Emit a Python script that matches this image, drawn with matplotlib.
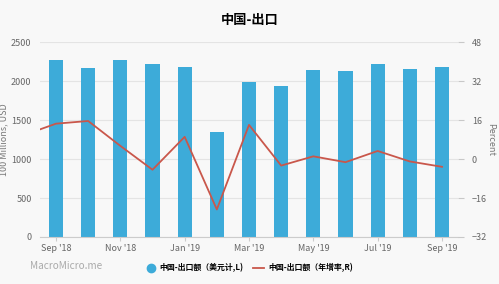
import matplotlib.pyplot as plt

plt.rcParams['font.family'] = ['Noto Sans CJK SC', 'DejaVu Sans']

months = ["Sep '18", "Oct '18", "Nov '18", "Dec '18", "Jan '19", "Feb '19", "Mar '19",
          "Apr '19", "May '19", "Jun '19", "Jul '19", "Aug '19", "Sep '19"]
exports = [2267, 2171, 2274, 2212, 2177, 1352, 1987, 1934, 2138, 2128, 2215, 2148, 2182]
# yoy starts one month earlier (Aug '18), drawn just outside the left edge
yoy = [9.8, 14.5, 15.6, 5.4, -4.4, 9.1, -20.7, 14.0, -2.7, 1.1, -1.3, 3.3, -1.0, -3.2]

bg = "#f8f8f8"
fig = plt.figure(figsize=(4.99, 2.84), dpi=100, facecolor=bg)
ax = fig.add_axes([0.080, 0.1655, 0.838, 0.6865], facecolor=bg)
x = list(range(len(months)))

ax.bar(x, exports, width=0.44, color="#3dabd9", zorder=2)
ax.set_ylim(0, 2500)
ax.set_yticks([0, 500, 1000, 1500, 2000, 2500])
ax.set_xlim(-0.5, len(months) - 0.5)
ax.set_xticks(x[::2])
ax.set_xticklabels(months[::2])
ax.grid(axis="y", color="#e4e4e4", lw=0.8, zorder=0)
ax.set_ylabel("100 Millions, USD", fontsize=6.5, color="#777777", labelpad=2)
for s in ["top", "right", "left"]:
    ax.spines[s].set_visible(False)
ax.spines["bottom"].set_color("#cccccc")
ax.tick_params(axis="y", length=0, labelsize=6.5, labelcolor="#666666", pad=6)
ax.tick_params(axis="x", length=3, color="#cccccc", labelsize=6.5, labelcolor="#666666", pad=2)

ax2 = ax.twinx()
ax2.plot(range(-1, len(months)), yoy, color="#c9574b", lw=1.3, zorder=3)
ax2.set_xlim(-0.5, len(months) - 0.5)
ax2.set_ylim(-32, 48)
ax2.set_yticks([-32, -16, 0, 16, 32, 48])
ax2.set_ylabel("Percent", fontsize=6.5, color="#777777", rotation=-90, labelpad=6)
for s in ax2.spines.values():
    s.set_visible(False)
ax2.tick_params(axis="y", length=4, width=0.8, color="#c8c8c8", labelsize=6.5,
                labelcolor="#666666", pad=6)

fig.text(0.5, 0.93, "中国-出口", ha="center", va="center", fontsize=9.5, fontweight="bold")
fig.text(0.06, 0.062, "MacroMicro.me", ha="left", va="center", fontsize=7.2, color="#aaaaaa")

fig.lines.append(plt.Line2D([0.303], [0.058], marker="o", ms=6, color="#3dabd9",
                            transform=fig.transFigure))
fig.text(0.319, 0.058, "中国-出口额（美元计,L)", ha="left", va="center", fontsize=5.7, fontweight="bold")
fig.lines.append(plt.Line2D([0.507, 0.529], [0.058, 0.058], lw=1.3, color="#c9574b",
                            transform=fig.transFigure))
fig.text(0.537, 0.058, "中国-出口额（年增率,R)", ha="left", va="center", fontsize=5.7, fontweight="bold")

plt.savefig("out.png", dpi=100, facecolor=bg)
